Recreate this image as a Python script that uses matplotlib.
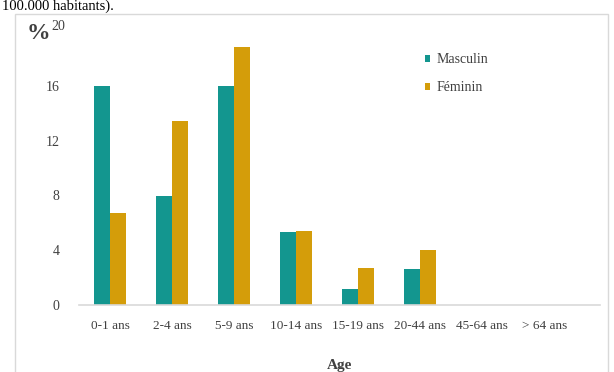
import matplotlib.pyplot as plt
import numpy as np

# --- data ---
categories = ['0-1 ans', '2-4 ans', '5-9 ans', '10-14 ans', '15-19 ans',
              '20-44 ans', '45-64 ans', '> 64 ans']
masculin = [16.0, 7.95, 16.0, 5.3, 1.2, 2.6, 0, 0]
feminin = [6.75, 13.4, 18.8, 5.4, 2.7, 4.0, 0, 0]
y_ticks = [0, 4, 8, 12, 16, 20]

TEAL = '#13968F'
GOLD = '#D49D0A'
GRID = '#D9D9D9'
TXT = '#404040'

plt.rcParams['font.family'] = ['Liberation Serif', 'DejaVu Serif']

fig = plt.figure(figsize=(6.14, 3.72), dpi=100)
W, H = 614, 372

# outer chart frame (bottom cut off like the reference)
frame = plt.Rectangle((15 / W, -0.05), 593 / W, 1 - 14 / H + 0.05,
                      transform=fig.transFigure, fill=False,
                      edgecolor=GRID, linewidth=1.0)
fig.add_artist(frame)

# caption line above the chart
fig.text(2 / W, 1 - 10 / H, '100.000 habitants).', fontsize=10.5,
         color='black', ha='left', va='baseline')

ax = fig.add_axes([79 / W, 1 - 305 / H, (600 - 79) / W, (305 - 31) / H])

x = np.arange(len(categories))
bw = 0.26
ax.bar(x - bw / 2, masculin, width=bw, color=TEAL, label='Masculin')
ax.bar(x + bw / 2, feminin, width=bw, color=GOLD, label='Féminin')

ax.set_xlim(-0.5, 7.9)
ax.set_ylim(0, 20)
ax.set_xticks(x)
ax.set_xticklabels(categories, fontsize=9.5, color=TXT)
ax.set_yticks(y_ticks)
ax.set_yticklabels([str(v) if v != 20 else '' for v in y_ticks],
                   fontsize=10, color=TXT)
ax.tick_params(length=0)
ax.tick_params(axis='y', pad=14)
ax.tick_params(axis='x', pad=11)

for s in ['top', 'right', 'left']:
    ax.spines[s].set_visible(False)
ax.spines['bottom'].set_color(GRID)
ax.spines['bottom'].set_linewidth(1.2)

# "%" with 20 like the reference
fig.text(27 / W, 1 - 39 / H, '%', fontsize=17, fontweight='bold',
         color=TXT, ha='left', va='baseline')
fig.text(51 / W, 1 - 30 / H, '20', fontsize=10, color=TXT,
         ha='left', va='baseline')

ax.set_xlabel('Age', fontsize=11, fontweight='bold', color=TXT, labelpad=19)

ax.legend(loc='upper left', bbox_to_anchor=(0.64, 0.965), frameon=False,
          fontsize=10, handlelength=0.4, handleheight=0.4,
          handletextpad=0.4, labelspacing=1.1, labelcolor=TXT)

fig.savefig('out.png', dpi=100)
